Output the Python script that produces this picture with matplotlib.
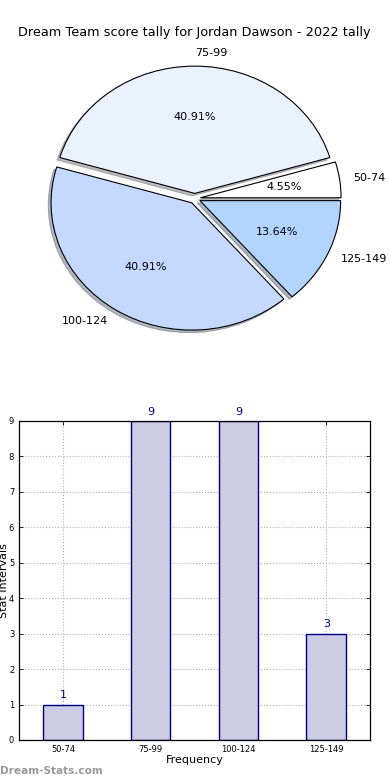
import matplotlib
matplotlib.use('Agg')
import matplotlib.pyplot as plt
import numpy as np

# data
intervals = ['50-74', '75-99', '100-124', '125-149']
counts = [1, 9, 9, 3]
pie_colors = ['#ffffff', '#eaf1ff', '#c5d8ff', '#b3d4ff']
title = 'Dream Team score tally for Jordan Dawson - 2022 tally'

fig = plt.figure(figsize=(3.9, 7.8), dpi=100)

# pie
ax1 = fig.add_axes([0.0485, 0.5415, 0.902, 0.408])
wedges, texts, autotexts = ax1.pie(counts, labels=intervals, colors=pie_colors,
                                   explode=[0.04] * 4,
                                   shadow={'ox': -0.014, 'oy': -0.014, 'shade': 0.5},
                                   autopct='%.2f%%', startangle=0,
                                   wedgeprops={'edgecolor': 'black', 'linewidth': 0.8},
                                   textprops={'fontsize': 8})
texts[1].set_ha('left')  # old-style label alignment at the top
ax1.set_aspect('auto')
ax1.set_xlim(-1.25, 1.25)
ax1.set_ylim(-1.25, 1.25)
ax1.set_title(title, fontsize=9.25, pad=2)

# bars
ax2 = fig.add_axes([0.049, 0.0513, 0.9, 0.409])
x = np.arange(len(intervals))
ax2.bar(x, counts, width=0.45, color='#cccce5', edgecolor='navy', linewidth=1, zorder=2)
for xi, c in zip(x, counts):
    ax2.text(xi, c + 0.12, str(c), ha='center', va='bottom', color='navy', fontsize=8)
ax2.set_xlim(-0.5, 3.5)
ax2.set_ylim(0, 9)
ax2.set_xticks(x)
ax2.set_xticklabels(intervals)
ax2.set_yticks(range(10))
ax2.tick_params(direction='in', top=True, right=True, labelsize=6, length=3, width=0.6)
ax2.grid(True, linestyle=':', color='#b0b0b0', linewidth=0.8, zorder=0)
ax2.set_axisbelow(True)
ax2.set_xlabel('Frequency', fontsize=8, labelpad=1)
ax2.set_ylabel('Stat Intervals', fontsize=8, labelpad=0)
for s in ax2.spines.values():
    s.set_linewidth(0.9)

fig.text(0.0, 0.005, 'Dream-Stats.com', color='#999999', fontsize=7.6, fontweight='bold', ha='left', va='bottom')

fig.savefig('out.png', dpi=100)
